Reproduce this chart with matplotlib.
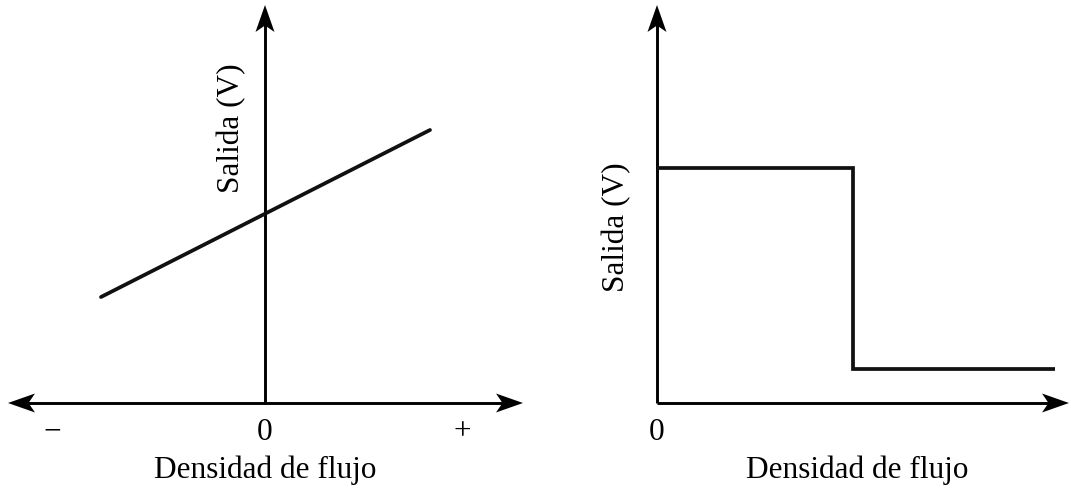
import matplotlib
matplotlib.use("Agg")
import matplotlib.pyplot as plt
from matplotlib.patches import Polygon

plt.rcParams['font.family'] = ['Liberation Serif', 'DejaVu Serif']

# ---- data ----
# left panel: linear sensor output vs flux density
lin_x = [-1.64, 1.65]
lin_y = [1.06, 2.73]
left_xticklabels = ["\u2212", "0", "+"]
left_xtickpos = [-2.13, 0.0, 1.97]
# right panel: switching (digital) output vs flux density
step_x = [0.0, 1.96, 1.96, 3.98]
step_y = [2.35, 2.35, 0.34, 0.34]
xlabel = "Densidad de flujo"
ylabel = "Salida (V)"

W, H = 1071, 491
fig = plt.figure(figsize=(W / 100, H / 100), dpi=100)

AX_LW = 2.1
LN_LW = 2.7
FS = 22.5


def arrow_head(ax, tip, direction, length=0.27, half=0.095, notch=0.065):
    dx, dy = direction
    px, py = -dy, dx
    tx, ty = tip
    bx, by = tx - dx * length, ty - dy * length
    nx, ny = tx - dx * (length - notch), ty - dy * (length - notch)
    pts = [(tx, ty), (bx + px * half, by + py * half), (nx, ny),
           (bx - px * half, by - py * half)]
    ax.add_patch(Polygon(pts, closed=True, color="black", lw=0, zorder=5))


def setup(ax, xlim):
    ax.set_xlim(*xlim)
    ax.set_ylim(-0.88, 4.03)
    ax.axis("off")


# ---- left panel ----
axL = fig.add_axes([0, 0, 535 / W, 1])
setup(axL, (-2.65, 2.70))
xl0, xl1, ytop = -2.57, 2.58, 3.98
axL.plot([xl0 + 0.15, xl1 - 0.15], [0, 0], color="black", lw=AX_LW, solid_capstyle="butt")
axL.plot([0, 0], [0, ytop - 0.15], color="black", lw=AX_LW, solid_capstyle="butt")
arrow_head(axL, (xl0, 0), (-1, 0))
arrow_head(axL, (xl1, 0), (1, 0))
arrow_head(axL, (0, ytop), (0, 1))
axL.plot(lin_x, lin_y, color="#111111", lw=LN_LW, solid_capstyle="round")
for p, t in zip(left_xtickpos, left_xticklabels):
    axL.text(p, -0.29, t, ha="center", va="center", fontsize=FS)
axL.text(0, -0.67, xlabel, ha="center", va="center", fontsize=FS)
axL.text(-0.33, 2.75, ylabel, ha="center", va="center", rotation=90, fontsize=FS)

# ---- right panel ----
axR = fig.add_axes([536 / W, 0, 535 / W, 1])
setup(axR, (-1.21, 4.14))
xr1 = 4.12
axR.plot([0, xr1 - 0.15], [0, 0], color="black", lw=AX_LW, solid_capstyle="butt")
axR.plot([0, 0], [0, ytop - 0.15], color="black", lw=AX_LW, solid_capstyle="butt")
arrow_head(axR, (xr1, 0), (1, 0))
arrow_head(axR, (0, ytop), (0, 1))
axR.plot(step_x, step_y, color="#111111", lw=LN_LW, solid_joinstyle="miter",
         solid_capstyle="butt")
axR.text(0, -0.29, "0", ha="center", va="center", fontsize=FS)
axR.text(2.0, -0.67, xlabel, ha="center", va="center", fontsize=FS)
axR.text(-0.40, 1.76, ylabel, ha="center", va="center", rotation=90, fontsize=FS)

fig.savefig("out.png", dpi=100)
